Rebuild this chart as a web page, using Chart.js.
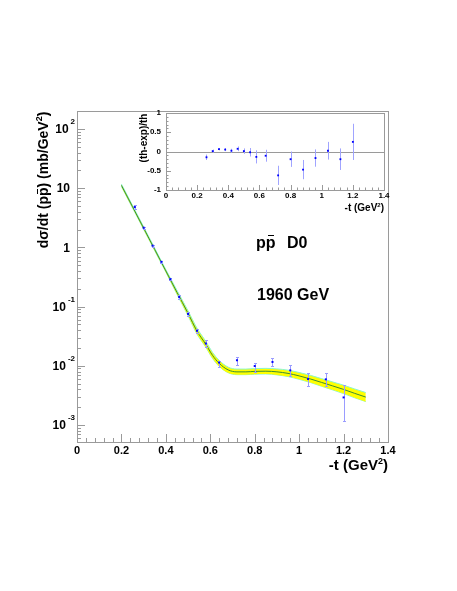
<!DOCTYPE html>
<html><head><meta charset="utf-8">
<script src="https://cdn.jsdelivr.net/npm/chart.js@4"></script>
<style>
html,body{margin:0;padding:0;background:#fff;}
#wrap{position:relative;width:457px;height:591px;background:#fff;}
#wrap canvas{position:absolute;left:0;top:0;}
</style></head><body>
<div id="wrap"><canvas id="main" width="457" height="591"></canvas><canvas id="inset" width="457" height="591"></canvas></div>
<script>
// ---- data ----
const tData = [0.26,0.30,0.34,0.38,0.42,0.46,0.50,0.54,0.58,0.64,0.72,0.80,0.88,0.96,1.04,1.12,1.20];
const dsdt = [4.8,2.15,1.07,0.57,0.29,0.145,0.075,0.039,0.0238,0.0113,0.0124,0.0099,0.0116,0.00836,0.00597,0.0059,0.00292];
const dsdtLow = [4.5,2.05,1.03,0.545,0.276,0.136,0.070,0.0355,0.0205,0.0094,0.01027,0.00794,0.00989,0.0067,0.00454,0.00454,0.00116];
const dsdtHigh = [5.1,2.25,1.11,0.595,0.305,0.154,0.080,0.0425,0.027,0.0120,0.01425,0.01128,0.01334,0.01016,0.00745,0.00745,0.00472];

const tTheory = [0.20,0.25,0.30,0.35,0.40,0.45,0.50,0.54,0.58,0.61,0.64,0.68,0.72,0.76,0.80,0.85,0.90,0.95,1.00,1.05,1.10,1.15,1.20,1.25,1.30];
const theory = [11.15,4.85,2.11,0.918,0.40,0.174,0.0768,0.0386,0.0230,0.0150,0.0110,0.00853,0.00789,0.00789,0.00804,0.0081,0.0079,0.00744,0.00675,0.0060,0.00525,0.00458,0.00399,0.00342,0.00296];
const theoryHigh = [11.73,5.10,2.22,0.966,0.421,0.188,0.0846,0.0433,0.0258,0.01684,0.01234,0.00951,0.00880,0.00880,0.00897,0.00904,0.00886,0.00843,0.00770,0.00691,0.00608,0.00535,0.00470,0.00406,0.00353];
const theoryLow = [10.6,4.61,2.006,0.873,0.380,0.161,0.0697,0.0343,0.0205,0.01334,0.00977,0.00764,0.00708,0.00708,0.00722,0.00727,0.00702,0.00657,0.00591,0.00522,0.00452,0.00392,0.00339,0.00288,0.00248];

const ratio = [-0.15,0.01,0.06,0.05,0.02,0.07,0.01,-0.02,-0.14,-0.11,-0.62,-0.20,-0.47,-0.17,0.02,-0.20,0.25];
const ratioErr = [0.07,0.04,0.03,0.04,0.05,0.06,0.07,0.11,0.17,0.155,0.25,0.20,0.25,0.225,0.23,0.28,0.47];

const xTicks = [0,0.2,0.4,0.6,0.8,1,1.2,1.4];
const xTickLabels = ['0','0.2','0.4','0.6','0.8','1','1.2','1.4'];
const yDecades = [100,10,1,0.1,0.01,0.001];
const yTickBase = ['10','10','1','10','10','10'];
const yTickExp = ['2','','','-1','-2','-3'];
const insetYTicks = [1,0.5,0,-0.5,-1];
const insetYLabels = ['1','0.5','0','-0.5','-1'];

// ---- helpers ----
const FONT = '"Liberation Sans", Arial, Helvetica, sans-serif';
const AXIS = '#9a9a9a';
function xy(xs, ys){ return xs.map((x,i)=>({x:x, y:ys[i]})); }
function supSize(s){ return Math.round(s*0.62); }
function richWidth(ctx, segs, size){
  let w=0;
  for (const s of segs){ ctx.font = 'bold '+(s.sup?supSize(size):size)+'px '+FONT; w += ctx.measureText(s.t).width; }
  return w;
}
function drawRich(ctx, segs, x, y, size, align){
  const W = richWidth(ctx, segs, size);
  let cx = align==='right' ? x-W : (align==='center' ? x-W/2 : x);
  ctx.textAlign='left'; ctx.textBaseline='alphabetic'; ctx.fillStyle='#000';
  for (const s of segs){
    const fs = s.sup ? supSize(size) : size;
    ctx.font = 'bold '+fs+'px '+FONT;
    const w = ctx.measureText(s.t).width;
    ctx.fillText(s.t, cx, s.sup ? y - size*0.42 : y);
    if (s.over){ ctx.fillRect(Math.round(cx+w*0.2), Math.round(y - size*0.82), Math.max(3,Math.round(w*0.6)), Math.max(1,Math.round(size*0.08))); }
    cx += w;
  }
}

// ---- main chart plugins ----
const mainAxes = {
  id:'mainAxes',
  beforeDatasetsDraw(chart){
    const ctx = chart.ctx, a = chart.chartArea, xs = chart.scales.x, ys = chart.scales.y;
    ctx.save();
    ctx.strokeStyle = AXIS; ctx.lineWidth = 1;
    ctx.strokeRect(Math.round(a.left)+0.5, Math.round(a.top)+0.5, Math.round(a.right-a.left), Math.round(a.bottom-a.top));
    ctx.beginPath();
    for (let k=0;k<=35;k++){
      const v = k*0.04; const px = Math.round(xs.getPixelForValue(v))+0.5;
      const len = (k%5===0) ? 8 : 4;
      ctx.moveTo(px, a.bottom); ctx.lineTo(px, a.bottom-len);
    }
    for (let e=-4;e<=3;e++){
      for (let m=1;m<=9;m++){
        const v = m*Math.pow(10,e);
        if (v < ys.min || v > ys.max) continue;
        const py = Math.round(ys.getPixelForValue(v))+0.5;
        const len = (m===1) ? 8 : 4;
        ctx.moveTo(a.left, py); ctx.lineTo(a.left+len, py);
      }
    }
    ctx.stroke();
    ctx.fillStyle='#000'; ctx.font='bold 11px '+FONT; ctx.textAlign='center'; ctx.textBaseline='middle';
    xTicks.forEach((v,i)=>{ ctx.fillText(xTickLabels[i], xs.getPixelForValue(v), a.bottom+9); });
    yDecades.forEach((v,i)=>{
      const py = ys.getPixelForValue(v);
      const base = yTickBase[i], ex = yTickExp[i];
      ctx.textBaseline='middle';
      if (ex){
        ctx.font='bold 8px '+FONT; const ew = ctx.measureText(ex).width;
        ctx.textAlign='left'; ctx.fillText(ex, 75-ew, py-7);
        ctx.font='bold 12px '+FONT; ctx.textAlign='right'; ctx.fillText(base, 75-ew-2, py+1);
      } else {
        ctx.font='bold 12px '+FONT; ctx.textAlign='right'; ctx.fillText(base, 70, py+1);
      }
    });
    drawRich(ctx, [{t:'-t (GeV'},{t:'2',sup:true},{t:')'}], a.right, 470, 15, 'right');
    ctx.save(); ctx.translate(48, 180); ctx.rotate(-Math.PI/2);
    drawRich(ctx, [{t:'d\u03C3/dt (p'},{t:'p',over:true},{t:') (mb/GeV'},{t:'2',sup:true},{t:')'}], 0, 0, 14, 'center');
    ctx.restore();
    drawRich(ctx, [{t:'p'},{t:'p',over:true}], 256, 248, 16, 'left');
    drawRich(ctx, [{t:'D0'}], 287, 248, 16, 'left');
    drawRich(ctx, [{t:'1960 GeV'}], 257, 300, 16, 'left');
    ctx.restore();
  }
};
const mainErr = {
  id:'mainErr',
  afterDatasetDraw(chart, args){
    if (args.index !== 1) return;
    const ctx = chart.ctx, xs = chart.scales.x, ys = chart.scales.y;
    ctx.save(); ctx.strokeStyle='#9a9cff'; ctx.lineWidth=1; ctx.beginPath();
    tData.forEach((t,i)=>{
      const px = Math.round(xs.getPixelForValue(t))+0.5;
      const hy = Math.round(ys.getPixelForValue(dsdtHigh[i]))+0.5, ly = Math.round(ys.getPixelForValue(dsdtLow[i]))+0.5;
      ctx.moveTo(px, hy); ctx.lineTo(px, ly);
      ctx.moveTo(px-1.5, hy); ctx.lineTo(px+1.5, hy);
      ctx.moveTo(px-1.5, ly); ctx.lineTo(px+1.5, ly);
    });
    ctx.stroke(); ctx.restore();
  }
};

new Chart(document.getElementById('main'), {
  type:'line',
  data:{datasets:[
    {label:'D0 data', data: xy(tData, dsdt), showLine:false, pointStyle:'rect', pointRadius:1.4, pointBackgroundColor:'#0000ff', pointBorderColor:'#0000ff', pointBorderWidth:0},
    {label:'theory', data: xy(tTheory, theory), borderColor:'#3a8d34', borderWidth:1, pointRadius:0, cubicInterpolationMode:'monotone', fill:false},
    {label:'band high', data: xy(tTheory, theoryHigh), borderColor:'#8af5cf', borderWidth:1, pointRadius:0, cubicInterpolationMode:'monotone', fill:'+1', backgroundColor:'#ffff00'},
    {label:'band low', data: xy(tTheory, theoryLow), borderColor:'#8af5cf', borderWidth:1, pointRadius:0, cubicInterpolationMode:'monotone', fill:false}
  ]},
  options:{
    responsive:false, animation:false, devicePixelRatio:1,
    layout:{padding:{left:77,right:69,top:111,bottom:149}},
    plugins:{legend:{display:false}, tooltip:{enabled:false}},
    scales:{
      x:{type:'linear', min:0, max:1.4, display:false},
      y:{type:'logarithmic', min:5.16e-4, max:201, display:false}
    }
  },
  plugins:[mainAxes, mainErr]
});

// ---- inset ----
const insetAxes = {
  id:'insetAxes',
  beforeDatasetsDraw(chart){
    const ctx = chart.ctx, a = chart.chartArea, xs = chart.scales.x, ys = chart.scales.y;
    ctx.save();
    ctx.strokeStyle = AXIS; ctx.lineWidth = 1;
    ctx.strokeRect(Math.round(a.left)+0.5, Math.round(a.top)+0.5, Math.round(a.right-a.left), Math.round(a.bottom-a.top));
    ctx.beginPath();
    for (let k=0;k<=35;k++){
      const px = Math.round(xs.getPixelForValue(k*0.04))+0.5;
      const len = (k%5===0) ? 5 : 2.5;
      ctx.moveTo(px, a.bottom); ctx.lineTo(px, a.bottom-len);
    }
    for (let k=-10;k<=10;k++){
      const py = Math.round(ys.getPixelForValue(k*0.1))+0.5;
      const len = (k%5===0) ? 5 : 2.5;
      ctx.moveTo(a.left, py); ctx.lineTo(a.left+len, py);
    }
    const zy = Math.round(ys.getPixelForValue(0))+0.5;
    ctx.moveTo(a.left, zy); ctx.lineTo(a.right, zy);
    ctx.stroke();
    ctx.fillStyle='#000'; ctx.font='bold 8px '+FONT; ctx.textBaseline='middle';
    ctx.textAlign='center';
    xTicks.forEach((v,i)=>{ ctx.fillText(xTickLabels[i], xs.getPixelForValue(v), a.bottom+6); });
    ctx.textAlign='right';
    insetYTicks.forEach((v,i)=>{ ctx.fillText(insetYLabels[i], a.left-5, ys.getPixelForValue(v)); });
    drawRich(ctx, [{t:'-t (GeV'},{t:'2',sup:true},{t:')'}], a.right, 211, 10, 'right');
    ctx.save(); ctx.translate(147, 138); ctx.rotate(-Math.PI/2);
    drawRich(ctx, [{t:'(th-exp)/th'}], 0, 0, 10, 'center');
    ctx.restore();
    ctx.strokeStyle='#a0a4ff'; ctx.beginPath();
    tData.forEach((t,i)=>{
      const px = Math.round(xs.getPixelForValue(t))+0.5;
      ctx.moveTo(px, ys.getPixelForValue(ratio[i]+ratioErr[i])); ctx.lineTo(px, ys.getPixelForValue(ratio[i]-ratioErr[i]));
    });
    ctx.stroke();
    ctx.restore();
  }
};
new Chart(document.getElementById('inset'), {
  type:'line',
  data:{datasets:[
    {label:'(th-exp)/th', data: xy(tData, ratio), showLine:false, pointStyle:'rect', pointRadius:1.3, pointBackgroundColor:'#0000ff', pointBorderColor:'#0000ff', pointBorderWidth:0}
  ]},
  options:{
    responsive:false, animation:false, devicePixelRatio:1,
    layout:{padding:{left:166,right:73,top:113,bottom:401}},
    plugins:{legend:{display:false}, tooltip:{enabled:false}},
    scales:{
      x:{type:'linear', min:0, max:1.4, display:false},
      y:{type:'linear', min:-1, max:1, display:false}
    }
  },
  plugins:[insetAxes]
});
</script>
</body></html>
